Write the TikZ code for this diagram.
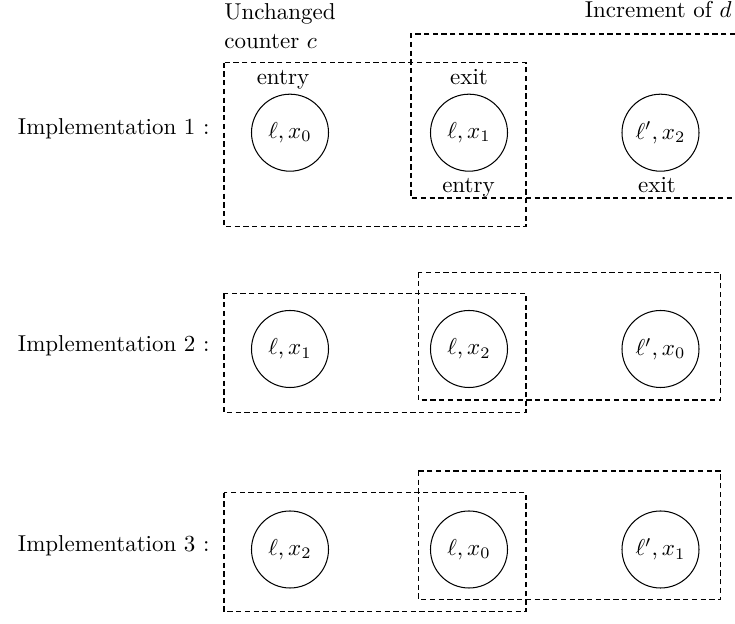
\documentclass[tikz,border=0pt]{standalone}
\usetikzlibrary{positioning}
\begin{document}
\begin{tikzpicture}[x=0.435pt,y=-0.435pt,
  state/.style={draw,circle,line width=0.45pt,minimum size=33.5pt,inner sep=0pt},
  grp/.style={draw,line width=0.45pt,dash pattern=on 2.3pt off 1.5pt},
  lbl/.style={inner sep=0pt},
  impl/.style={inner sep=0pt,anchor=base east}]
\useasboundingbox (0,0) rectangle (735,624);

% ---------- Row 1 ----------
\node[lbl,anchor=base west] (unch) at (224,20) {Unchanged};
\node[lbl,anchor=base west] (cnt) at (224,48.5) {counter $c$};
\node[lbl,anchor=base east] (incr) at (732,17.5) {Increment of $d$};

\draw[grp] (224,62.7) rectangle (526,226.7);
\draw[grp] (735,34) -- (411,34) -- (411,198) -- (735,198);

\node[impl] (i1) at (210,135) {Implementation 1 :};
\node[state] (a1) at (290,132.7) {$\ell,x_0$};
\node[state] (b1) at (469,132.7) {$\ell,x_1$};
\node[state] (c1) at (660.5,132.7) {$\ell',x_2$};

\node[lbl,anchor=base] (en1) at (283,85) {entry};
\node[lbl,anchor=base] (ex1) at (469,85) {exit};
\node[lbl,anchor=base] (en2) at (468.5,193) {entry};
\node[lbl,anchor=base] (ex2) at (657,193) {exit};

% ---------- Row 2 ----------
\draw[grp] (224,293.3) rectangle (526,412.7);
\draw[grp] (418.3,272.3) rectangle (720.7,400);

\node[impl] (i2) at (210,351.5) {Implementation 2 :};
\node[state] (a2) at (290,349) {$\ell,x_1$};
\node[state] (b2) at (469,349) {$\ell,x_2$};
\node[state] (c2) at (660.5,349) {$\ell',x_0$};

% ---------- Row 3 ----------
\draw[grp] (224,492.7) rectangle (526,611.7);
\draw[grp] (418.3,471) rectangle (720.7,599.3);

\node[impl] (i3) at (210,552) {Implementation 3 :};
\node[state] (a3) at (290,549.5) {$\ell,x_2$};
\node[state] (b3) at (469,549.5) {$\ell,x_0$};
\node[state] (c3) at (660.5,549.5) {$\ell',x_1$};
\end{tikzpicture}
\end{document}
